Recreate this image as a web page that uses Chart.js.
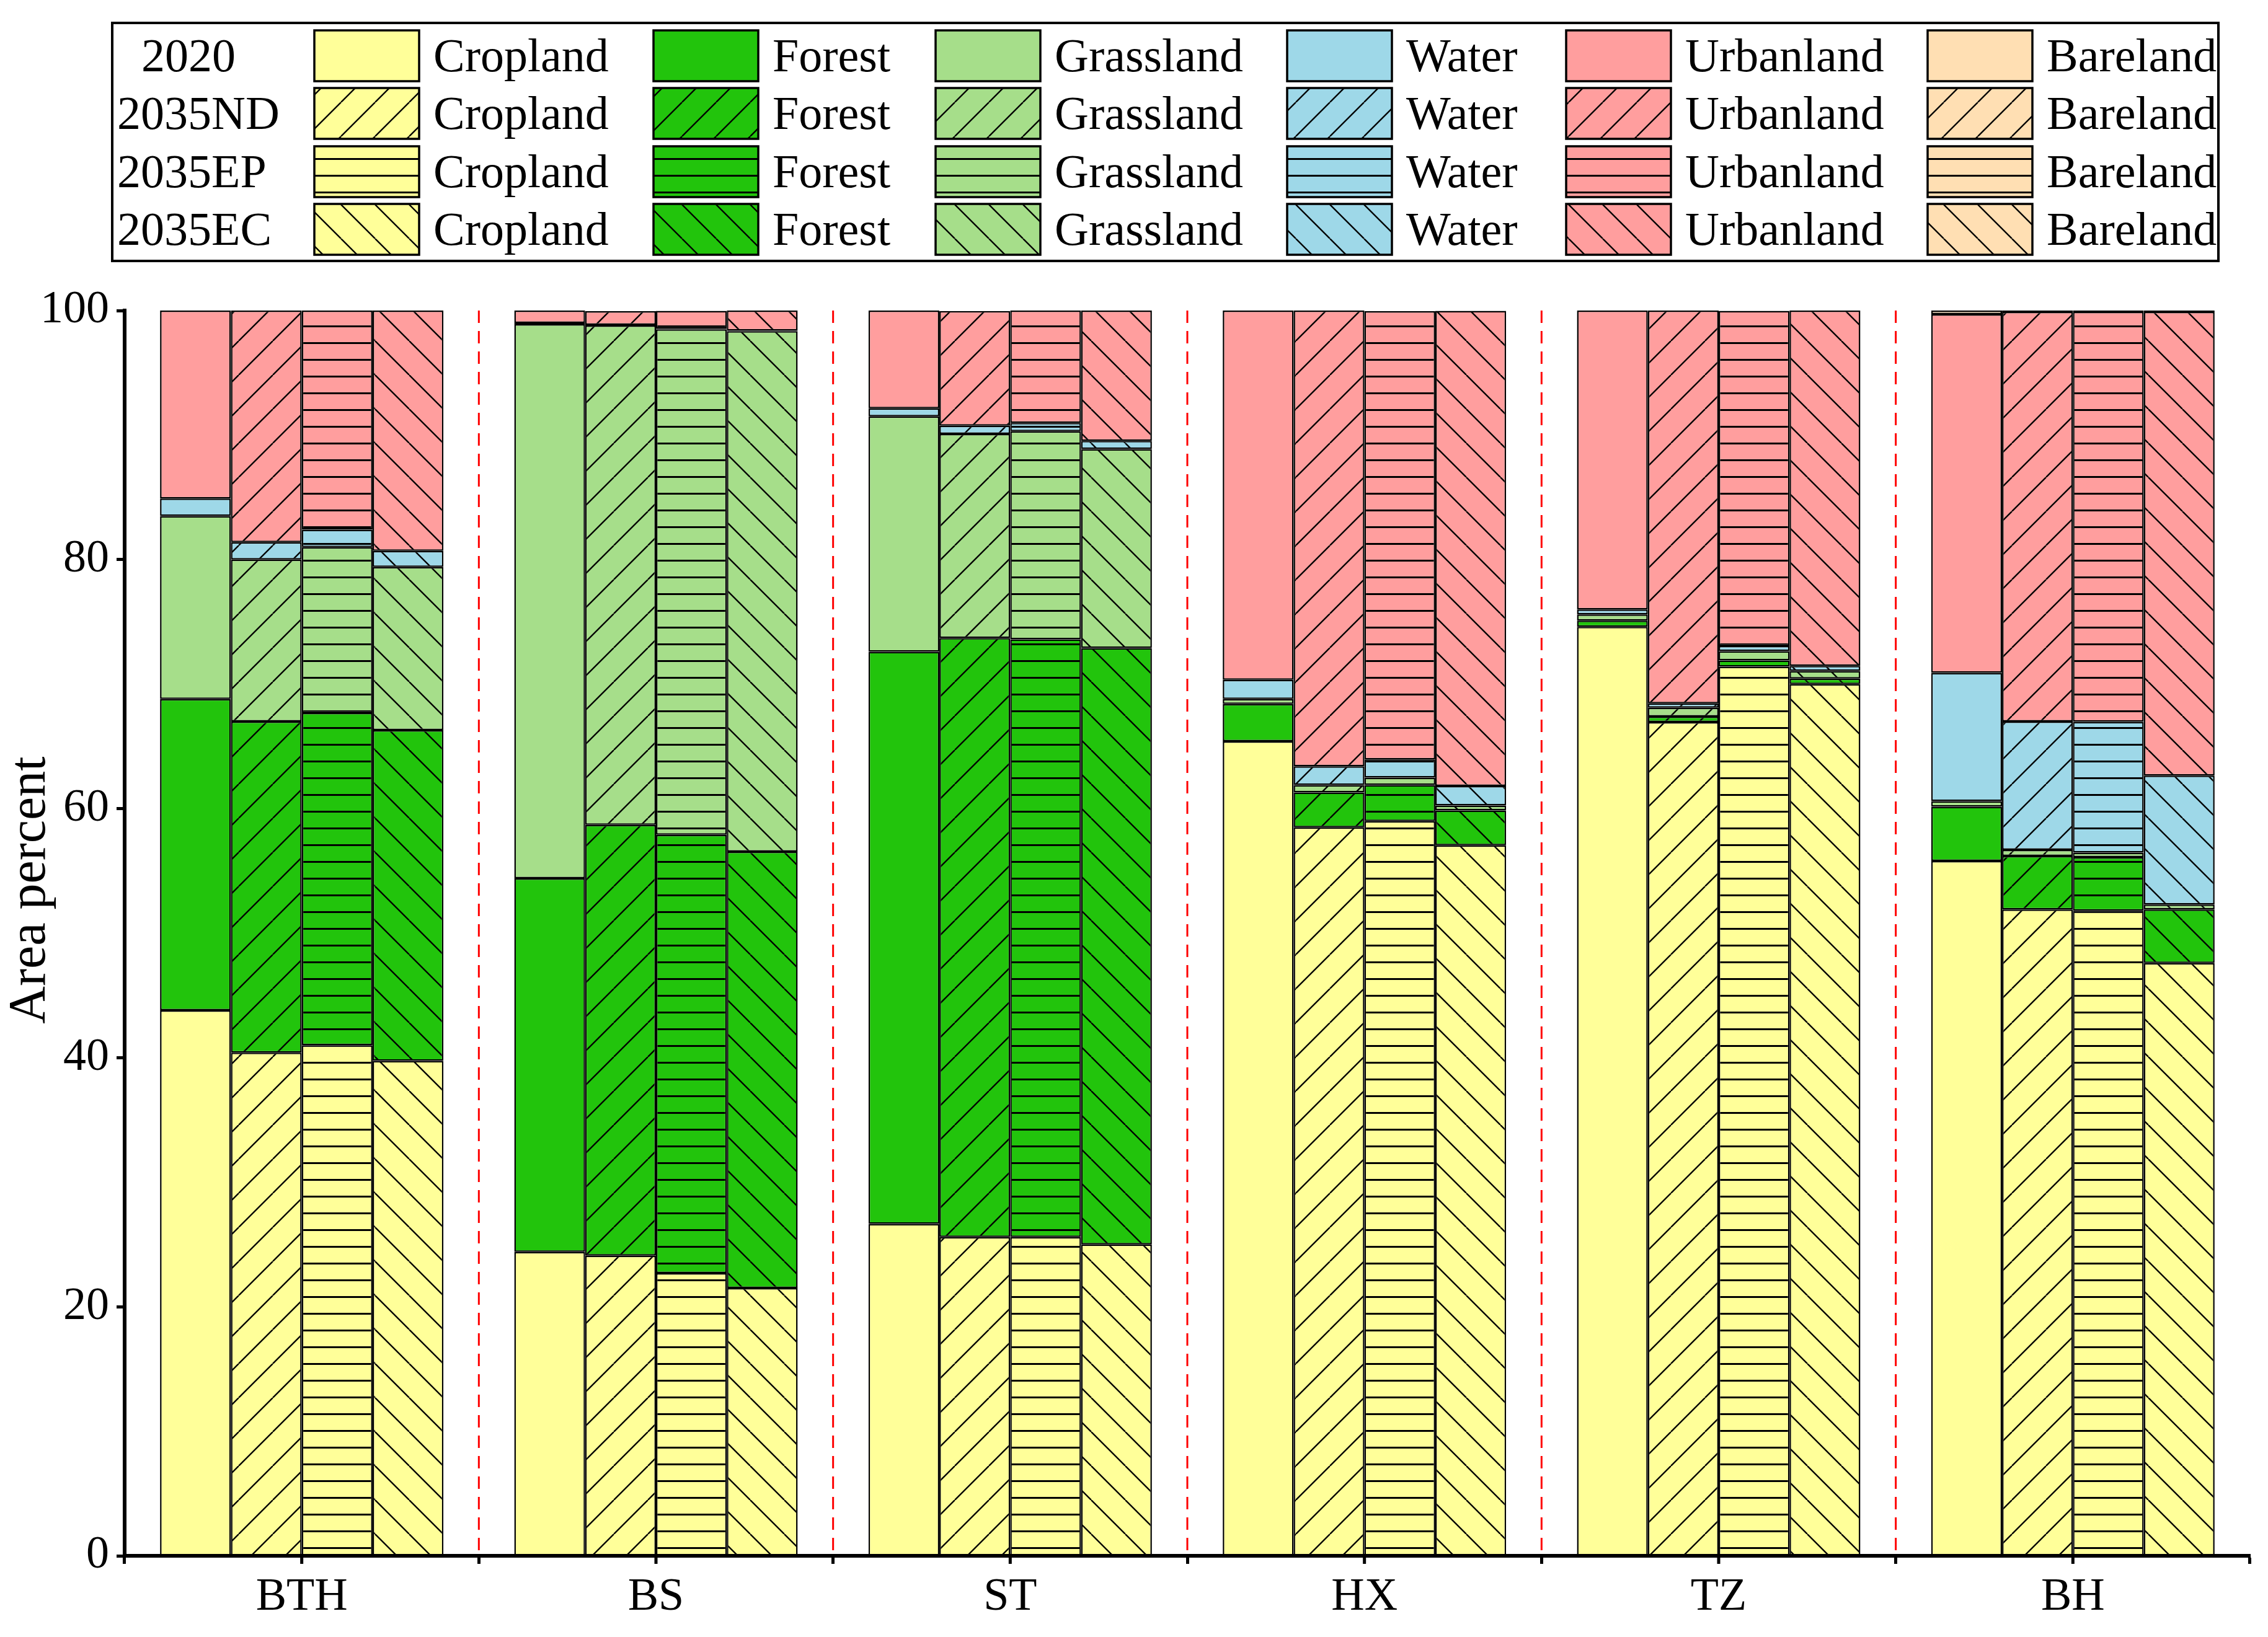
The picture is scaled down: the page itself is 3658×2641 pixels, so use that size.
<!DOCTYPE html>
<html>
<head>
<meta charset="utf-8">
<script src="https://cdn.jsdelivr.net/npm/chart.js@4.4.1/dist/chart.umd.min.js"></script>
<style>
  html, body { margin: 0; padding: 0; background: #fff; }
  canvas { display: block; }
</style>
</head>
<body>
<canvas id="chart" width="3658" height="2641"></canvas>
<script>
const regions = ['BTH', 'BS', 'ST', 'HX', 'TZ', 'BH'];
const scenarios = ['2020', '2035ND', '2035EP', '2035EC'];
const landTypes = ['Cropland', 'Forest', 'Grassland', 'Water', 'Urbanland', 'Bareland'];
const landColors = ['#FFFF99', '#22C40C', '#A6DE8A', '#9ED8E8', '#FF9E9E', '#FFDFB3'];
const yTicks = [0, 20, 40, 60, 80, 100];

// area percent, rows follow landTypes, columns follow regions
const y2020 = [
  [43.8, 24.4, 26.65, 65.4, 74.6, 55.8],
  [25.0, 30.0, 45.95, 3.0, 0.5, 4.35],
  [14.7, 44.5, 18.9, 0.4, 0.5, 0.45],
  [1.4, 0.1, 0.65, 1.55, 0.4, 10.3],
  [15.1, 1.0, 7.85, 29.65, 24.0, 28.8],
  [0, 0, 0, 0, 0, 0.3]
];
const y2035ND = [
  [40.4, 24.1, 25.6, 58.5, 66.95, 51.9],
  [26.6, 34.6, 48.1, 2.8, 0.45, 4.3],
  [13.0, 40.1, 16.4, 0.6, 0.7, 0.5],
  [1.4, 0.05, 0.66, 1.5, 0.35, 10.3],
  [18.6, 1.1, 9.2, 36.6, 31.55, 32.9],
  [0, 0, 0, 0, 0, 0.1]
];
const y2035EP = [
  [41.0, 22.7, 25.6, 59.0, 71.4, 51.8],
  [26.7, 35.2, 48.0, 2.9, 0.5, 4.3],
  [13.3, 40.6, 16.7, 0.6, 0.75, 0.37],
  [1.4, 0.05, 0.68, 1.45, 0.42, 10.5],
  [17.6, 1.43, 9.02, 36.0, 26.9, 32.93],
  [0, 0, 0, 0, 0, 0.1]
];
const y2035EC = [
  [39.75, 21.5, 25.0, 57.05, 70.0, 47.6],
  [26.55, 35.05, 47.9, 2.8, 0.45, 4.3],
  [13.1, 41.8, 15.97, 0.4, 0.6, 0.4],
  [1.3, 0.05, 0.66, 1.57, 0.41, 10.36],
  [19.3, 1.6, 10.47, 38.16, 28.54, 37.24],
  [0, 0, 0, 0, 0, 0.1]
];
const scenarioData = [y2020, y2035ND, y2035EP, y2035EC];
const hatchKinds = ['', 'f', 'h', 'b'];

const FONT = '"Liberation Serif", "Times New Roman", serif';
const canvas = document.getElementById('chart');
const ctx = canvas.getContext('2d');

function makeFill(color, kind) {
  if (!kind) return color;
  const s = kind === 'h' ? 27 : 55;
  const c = document.createElement('canvas');
  c.width = s;
  c.height = s;
  const g = c.getContext('2d');
  g.fillStyle = color;
  g.fillRect(0, 0, s, s);
  g.strokeStyle = '#000';
  g.lineWidth = kind === 'h' ? 3 : 2.4;
  g.beginPath();
  if (kind === 'h') {
    g.moveTo(0, s / 2);
    g.lineTo(s, s / 2);
  } else {
    for (let k = -1; k <= 1; k++) {
      if (kind === 'f') {
        g.moveTo(k * s, s);
        g.lineTo(k * s + s, 0);
      } else {
        g.moveTo(k * s, 0);
        g.lineTo(k * s + s, s);
      }
    }
  }
  g.stroke();
  return ctx.createPattern(c, 'repeat');
}

const fills = hatchKinds.map(kind => landColors.map(col => makeFill(col, kind)));

const datasets = [];
scenarios.forEach((sc, si) => {
  landTypes.forEach((lt, li) => {
    datasets.push({
      label: sc + ' ' + lt,
      data: scenarioData[si][li],
      stack: sc,
      backgroundColor: fills[si][li],
      borderColor: '#000',
      borderWidth: 2.5,
      borderSkipped: false,
      categoryPercentage: 0.8,
      barPercentage: 1.0
    });
  });
});

// legend box, separators, center ticks, axis title
const legendBox = { left: 181, top: 37, right: 3578, bottom: 421 };
const swatchX = [507, 1054, 1509, 2076, 2526, 3109];
const rowY = [90, 183, 277, 370];
const rowLabelX = [228, 189, 189, 189];
const swW = 169, swH = 82;

const extras = {
  id: 'extras',
  afterDraw(chart) {
    const c = chart.ctx;
    const x = chart.scales.x;
    const area = chart.chartArea;
    c.save();

    // red dashed separators
    c.strokeStyle = '#FF0000';
    c.lineWidth = 3;
    c.setLineDash([20, 13]);
    for (let i = 0; i < regions.length - 1; i++) {
      const px = (x.getPixelForValue(i) + x.getPixelForValue(i + 1)) / 2;
      c.beginPath();
      c.moveTo(px, area.top);
      c.lineTo(px, area.bottom);
      c.stroke();
    }
    c.setLineDash([]);

    // tick marks under category centres
    c.strokeStyle = '#000';
    c.lineWidth = 5;
    for (let i = 0; i < regions.length; i++) {
      const px = x.getPixelForValue(i);
      c.beginPath();
      c.moveTo(px, area.bottom);
      c.lineTo(px, area.bottom + 13);
      c.stroke();
    }

    // y title
    c.fillStyle = '#000';
    c.font = '84px ' + FONT;
    c.textAlign = 'center';
    c.textBaseline = 'middle';
    c.translate(50, 1436);
    c.rotate(-Math.PI / 2);
    c.fillText('Area percent', 0, 0);
    c.setTransform(1, 0, 0, 1, 0, 0);

    // legend
    c.lineWidth = 4;
    c.strokeRect(legendBox.left, legendBox.top, legendBox.right - legendBox.left, legendBox.bottom - legendBox.top);
    c.font = '76px ' + FONT;
    c.textAlign = 'left';
    c.textBaseline = 'alphabetic';
    scenarios.forEach((sc, si) => {
      const cy = rowY[si];
      c.fillStyle = '#000';
      c.fillText(sc, rowLabelX[si], cy + 25);
      landTypes.forEach((lt, li) => {
        const sx = swatchX[li];
        c.fillStyle = fills[si][li];
        c.fillRect(sx, cy - swH / 2, swW, swH);
        c.lineWidth = 3.5;
        c.strokeStyle = '#000';
        c.strokeRect(sx, cy - swH / 2, swW, swH);
        c.fillStyle = '#000';
        c.fillText(lt, sx + 192, cy + 25);
      });
    });
    c.restore();
  }
};

new Chart(canvas, {
  type: 'bar',
  data: { labels: regions, datasets },
  options: {
    responsive: false,
    animation: false,
    devicePixelRatio: 1,
    layout: { padding: { top: 501, right: 29, left: 0, bottom: 0 } },
    plugins: {
      legend: { display: false },
      tooltip: { enabled: false }
    },
    scales: {
      x: {
        stacked: true,
        offset: true,
        afterFit(scale) { scale.height = 131; },
        grid: {
          display: true,
          drawOnChartArea: false,
          drawTicks: true,
          tickLength: 13,
          tickWidth: 5,
          color: '#000',
          offset: true
        },
        border: { display: true, color: '#000', width: 6 },
        ticks: {
          color: '#000',
          padding: 10,
          font: { family: FONT, size: 74 }
        }
      },
      y: {
        stacked: true,
        min: 0,
        max: 100,
        afterFit(scale) { scale.width = 201; },
        afterBuildTicks(scale) { scale.ticks = yTicks.map(v => ({ value: v })); },
        grid: {
          display: true,
          drawOnChartArea: false,
          drawTicks: true,
          tickLength: 13,
          tickWidth: 5,
          color: '#000'
        },
        border: { display: true, color: '#000', width: 6 },
        ticks: {
          color: '#000',
          padding: 12,
          font: { family: FONT, size: 74 }
        }
      }
    }
  },
  plugins: [extras]
});
</script>
</body>
</html>
